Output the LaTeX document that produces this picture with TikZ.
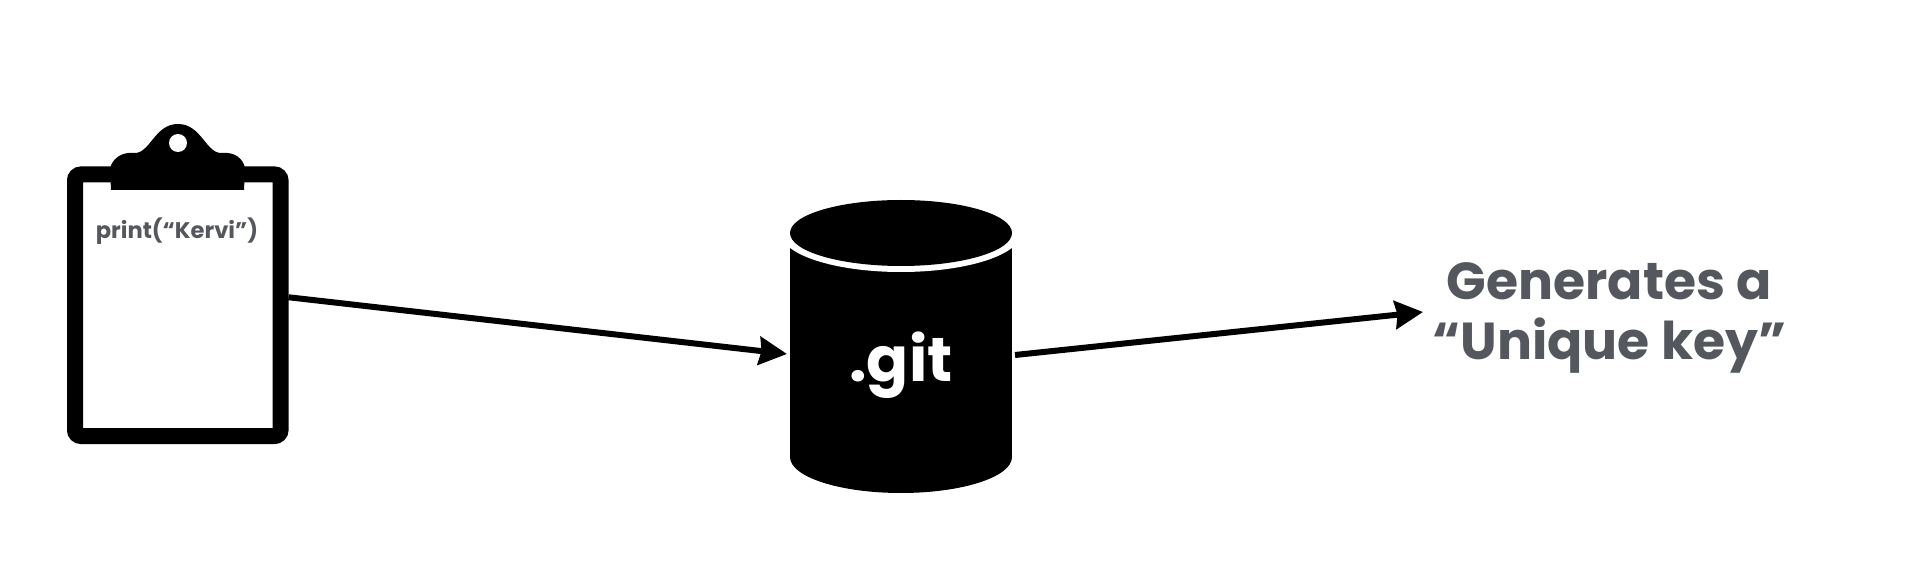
\documentclass[tikz,border=0pt]{standalone}
\usepackage{fontspec}
\setmainfont[BoldFont={* Bold}]{Poppins}
\usetikzlibrary{shapes.geometric, arrows.meta, positioning}
\definecolor{slategray}{RGB}{84,88,94}

\begin{document}
\begin{tikzpicture}[
        x=0.5pt, y=-0.5pt,
        board/.style={rectangle, draw=black, fill=white, line width=8pt, minimum width=102.75pt, minimum height=130.75pt, rounded corners=3pt},
        tankbody/.style={rectangle, fill=black, inner sep=0pt, outer sep=0pt, minimum width=111pt, minimum height=112pt},
        tanklid/.style={ellipse, fill=black, inner sep=0pt, outer sep=0pt, minimum width=111pt, minimum height=33pt},
        tankgap/.style={ellipse, fill=white, inner sep=0pt, outer sep=0pt, minimum width=120pt, minimum height=39pt},
        hole/.style={circle, fill=white, inner sep=0pt, minimum size=9pt},
        label/.style={text=slategray, inner sep=0pt, align=center},
        arrow/.style={-{Stealth[length=14pt, width=14pt, inset=1.2pt]}, line width=3pt, black}
    ]

    \useasboundingbox (0,0) rectangle (1910,566);

    % Clipboard
    \node[board] (sheet) at (177.75,305.25) {};
    \fill[black] (111,190) -- (110,168) .. controls (113,158) and (122,152) .. (133,153)
        .. controls (150,155) and (154,124) .. (178,124)
        .. controls (202,124) and (206,155) .. (223,153)
        .. controls (234,152) and (243,158) .. (245,168) -- (244,190) -- cycle;
    \node[hole] (cliphole) at (178,143) {};
    \node[label, font=\bfseries\fontsize{11.3}{14}\selectfont] (code) at (177,231) {print(“Kervi”)};

    % Repository
    \node[tankbody] (tank) at (901,345) {};
    \node[tanklid, minimum height=36pt] (tankfoot) at (901,457) {};
    \node[tankgap] (tankring) at (901,233) {};
    \node[tanklid] (tanktop) at (901,233) {};
    \node[label, text=white, font=\bfseries\fontsize{31}{36}\selectfont] (gitname) at (901,365) {.git};

    % Result
    \node[label, font=\bfseries\fontsize{26}{30}\selectfont, anchor=west] (result) at (1432,318) {Generates a\\“Unique key”};

    \draw[arrow] ([yshift=4pt]sheet.east) -- ([xshift=-1.5pt, yshift=-4.5pt]tank.west);
    \draw[arrow] ([xshift=1.5pt, yshift=-5pt]tank.east) -- ([xshift=-4.5pt, yshift=3pt]result.west);

\end{tikzpicture}
\end{document}
